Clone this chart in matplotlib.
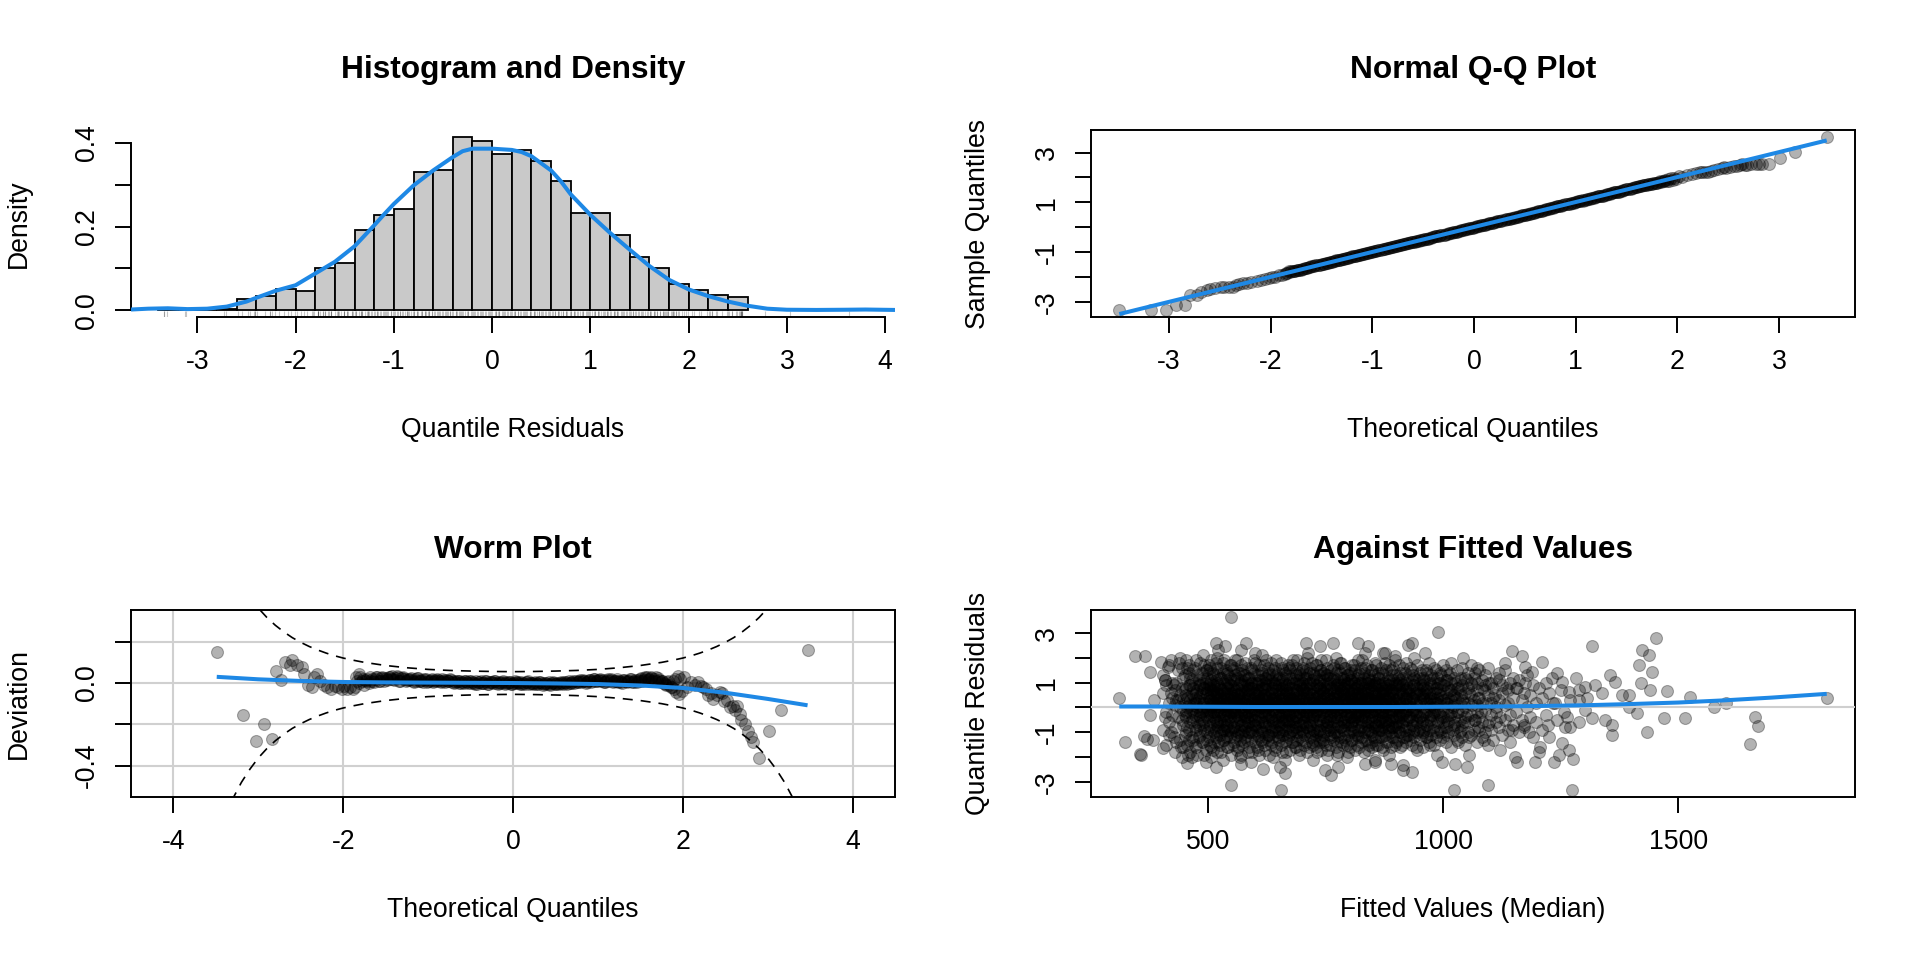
import matplotlib
matplotlib.use("Agg")
import matplotlib.pyplot as plt

plt.rcParams['font.family'] = ['Liberation Sans', 'DejaVu Sans']
plt.rcParams['axes.unicode_minus'] = False

BLUE = '#1E88E5'
PT_FACE = (0, 0, 0, 0.3)
PT_EDGE = (0, 0, 0, 0.3)

# ---- histogram of quantile residuals (bin width 0.2, density scale)
hist_left = [-3.4, -3.2, -3.0, -2.8, -2.6, -2.4, -2.2, -2.0, -1.8, -1.6,
             -1.4, -1.2, -1.0, -0.8, -0.6, -0.4, -0.2, 0.0, 0.2, 0.4,
             0.6, 0.8, 1.0, 1.2, 1.4, 1.6, 1.8, 2.0, 2.2, 2.4]
hist_heights = [0.005, 0.0, 0.0, 0.004, 0.028, 0.034, 0.050, 0.046, 0.101, 0.114,
                0.191, 0.227, 0.241, 0.330, 0.336, 0.414, 0.405, 0.374, 0.382, 0.356,
                0.308, 0.232, 0.232, 0.181, 0.127, 0.102, 0.064, 0.049, 0.036, 0.032]

# kernel density curve
dens_x = [-3.675, -3.5, -3.3, -3.1, -2.9, -2.7, -2.5, -2.4, -2.2, -2.0,
          -1.9, -1.8, -1.6, -1.4, -1.3, -1.2, -1.1, -1.0, -0.8, -0.6,
          -0.4, -0.3, -0.2, 0.0, 0.2, 0.3, 0.4, 0.6, 0.7, 0.8,
          1.0, 1.2, 1.4, 1.6, 1.8, 2.0, 2.2, 2.4, 2.6, 2.8,
          3.0, 3.3, 3.6, 3.8, 4.1]
dens_y = [0.002, 0.004, 0.005, 0.003, 0.004, 0.009, 0.021, 0.030, 0.047, 0.060,
          0.074, 0.088, 0.116, 0.153, 0.178, 0.203, 0.229, 0.254, 0.298, 0.334,
          0.366, 0.380, 0.386, 0.386, 0.383, 0.378, 0.368, 0.334, 0.308, 0.277,
          0.228, 0.185, 0.145, 0.106, 0.073, 0.050, 0.034, 0.021, 0.011, 0.004,
          0.0015, 0.001, 0.0015, 0.002, 0.001]

# ---- worm plot points: theoretical quantile and deviation (sample - theoretical)
tail_theo = [-3.49, -3.18, -3.03, -2.93, -2.84, -2.79, -2.73, -2.69, -2.63, -2.60,
             -2.55, -2.49, -2.46, -2.41, -2.37, -2.34, -2.31, -2.27, -2.23, -2.19,
             -2.14, -2.10, -2.06, -2.02, -1.99, -1.96, -1.92, -1.89,
             1.94, 1.96, 1.97, 1.99, 2.02, 2.05, 2.10, 2.14, 2.18, 2.22,
             2.24, 2.27, 2.30, 2.33, 2.36, 2.40, 2.44, 2.46, 2.48, 2.52,
             2.56, 2.59, 2.62, 2.64, 2.67, 2.69, 2.73, 2.77, 2.80, 2.83,
             2.90, 3.01, 3.16, 3.47]
tail_dev = [0.148, -0.156, -0.28, -0.2, -0.273, 0.057, 0.017, 0.102, 0.087, 0.114,
            0.087, 0.078, 0.045, -0.011, -0.02, 0.03, 0.045, 0.012, -0.011, -0.02,
            -0.027, -0.015, -0.02, -0.03, -0.015, -0.027, -0.02, -0.027,
            0.035, -0.055, 0.02, -0.04, 0.03, -0.02, 0.005, -0.01, 0.005, -0.015,
            -0.02, -0.03, -0.06, -0.05, -0.076, -0.06, -0.044, -0.05, -0.085, -0.08,
            -0.117, -0.11, -0.133, -0.109, -0.15, -0.177, -0.2, -0.231, -0.26, -0.288,
            -0.364, -0.234, -0.133, 0.16]

body_theo = [-1.86, -1.84, -1.82, -1.80, -1.78, -1.76, -1.74, -1.72, -1.70, -1.68,
             -1.66, -1.64, -1.62, -1.60, -1.58, -1.56, -1.54, -1.52, -1.50, -1.48,
             -1.46, -1.44, -1.42, -1.40, -1.38, -1.36, -1.34, -1.32, -1.30, -1.28,
             -1.26, -1.24, -1.22, -1.20, -1.18, -1.16, -1.14, -1.12, -1.10, -1.08,
             -1.06, -1.04, -1.02, -1.00, -0.98, -0.96, -0.94, -0.92, -0.90, -0.88,
             -0.86, -0.84, -0.82, -0.80, -0.78, -0.76, -0.74, -0.72, -0.70, -0.68,
             -0.66, -0.64, -0.62, -0.60, -0.58, -0.56, -0.54, -0.52, -0.50, -0.48,
             -0.46, -0.44, -0.42, -0.40, -0.38, -0.36, -0.34, -0.32, -0.30, -0.28,
             -0.26, -0.24, -0.22, -0.20, -0.18, -0.16, -0.14, -0.12, -0.10, -0.08,
             -0.06, -0.04, -0.02, 0.00, 0.02, 0.04, 0.06, 0.08, 0.10, 0.12,
             0.14, 0.16, 0.18, 0.20, 0.22, 0.24, 0.26, 0.28, 0.30, 0.32,
             0.34, 0.36, 0.38, 0.40, 0.42, 0.44, 0.46, 0.48, 0.50, 0.52,
             0.54, 0.56, 0.58, 0.60, 0.62, 0.64, 0.66, 0.68, 0.70, 0.72,
             0.74, 0.76, 0.78, 0.80, 0.82, 0.84, 0.86, 0.88, 0.90, 0.92,
             0.94, 0.96, 0.98, 1.00, 1.02, 1.04, 1.06, 1.08, 1.10, 1.12,
             1.14, 1.16, 1.18, 1.20, 1.22, 1.24, 1.26, 1.28, 1.30, 1.32,
             1.34, 1.36, 1.38, 1.40, 1.42, 1.44, 1.46, 1.48, 1.50, 1.52,
             1.54, 1.56, 1.58, 1.60, 1.62, 1.64, 1.66, 1.68, 1.70, 1.72,
             1.74, 1.76, 1.78, 1.80, 1.82, 1.84, 1.86, 1.88, 1.90, 1.92]
body_dev = [-0.02, 0.01, 0.045, 0.03, 0.01, -0.01, 0.015, 0.02, 0.0, 0.012,
            0.02, 0.005, 0.018, 0.028, 0.01, 0.022, 0.03, 0.012, 0.025, 0.018,
            0.03, 0.02, 0.035, 0.015, 0.025, 0.028, 0.012, 0.022, 0.03, 0.018,
            0.01, 0.02, 0.015, 0.025, 0.008, 0.018, 0.012, 0.022, 0.01, 0.015,
            0.005, 0.015, 0.02, 0.008, 0.012, 0.018, 0.006, 0.014, 0.01, 0.016,
            0.008, 0.018, 0.012, 0.005, 0.015, 0.01, 0.02, 0.006, 0.012, 0.004,
            0.01, 0.002, 0.012, 0.006, 0.0, 0.01, 0.004, 0.012, -0.002, 0.006,
            0.0, 0.008, -0.004, 0.004, 0.01, -0.002, 0.002, 0.008, -0.005, 0.004,
            0.006, -0.002, 0.008, 0.002, -0.004, 0.006, 0.0, 0.008, -0.003, 0.004,
            0.0, 0.006, -0.004, 0.002, 0.008, -0.002, 0.004, -0.005, 0.003, 0.0,
            -0.004, 0.004, 0.008, -0.002, 0.002, -0.006, 0.004, 0.0, -0.004, 0.003,
            -0.002, -0.007, 0.002, -0.004, 0.003, -0.008, -0.002, 0.002, -0.005, 0.0,
            -0.004, 0.004, -0.002, 0.006, 0.0, -0.003, 0.008, 0.002, 0.006, 0.0,
            0.01, 0.004, 0.012, 0.006, 0.014, 0.008, 0.002, 0.012, 0.016, 0.006,
            0.012, 0.018, 0.008, 0.014, 0.02, 0.01, 0.016, 0.006, 0.012, 0.018,
            0.008, 0.014, 0.004, 0.012, 0.018, 0.006, 0.01, 0.002, 0.014, 0.008,
            0.004, 0.012, 0.018, 0.006, 0.01, 0.016, 0.004, 0.012, 0.02, 0.008,
            0.014, 0.024, 0.03, 0.018, 0.026, 0.012, 0.02, 0.028, 0.01, 0.016,
            0.006, 0.012, 0.0, -0.008, 0.004, -0.012, -0.02, 0.01, -0.03, -0.045]

# further points inside the dense body (between the ones above)
body2_theo = [-1.85, -1.81, -1.77, -1.73, -1.69, -1.65, -1.61, -1.57, -1.53, -1.49,
              -1.45, -1.41, -1.37, -1.33, -1.29, -1.25, -1.21, -1.17, -1.13, -1.09,
              -1.05, -1.01, -0.97, -0.93, -0.89, -0.85, -0.81, -0.77, -0.73, -0.69,
              -0.65, -0.61, -0.57, -0.53, -0.49, -0.45, -0.41, -0.37, -0.33, -0.29,
              -0.25, -0.21, -0.17, -0.13, -0.09, -0.05, -0.01, 0.03, 0.07, 0.11,
              0.15, 0.19, 0.23, 0.27, 0.31, 0.35, 0.39, 0.43, 0.47, 0.51,
              0.55, 0.59, 0.63, 0.67, 0.71, 0.75, 0.79, 0.83, 0.87, 0.91,
              0.95, 0.99, 1.03, 1.07, 1.11, 1.15, 1.19, 1.23, 1.27, 1.31,
              1.35, 1.39, 1.43, 1.47, 1.51, 1.55, 1.59, 1.63, 1.67, 1.71,
              1.75, 1.79, 1.83, 1.87, 1.91]
body2_dev = [0.03, 0.0, 0.02, 0.01, 0.028, 0.012, 0.03, 0.008, 0.024, 0.016,
             0.028, 0.018, 0.032, 0.01, 0.026, 0.014, 0.02, 0.006, 0.022, 0.008,
             0.018, 0.004, 0.016, 0.01, 0.02, 0.004, 0.014, 0.008, 0.016, 0.002,
             0.008, 0.0, 0.01, 0.002, 0.008, -0.004, 0.006, 0.0, 0.008, -0.004,
             0.004, 0.008, -0.002, 0.006, 0.0, 0.004, -0.004, 0.006, 0.002, -0.003,
             0.006, -0.004, 0.002, -0.006, 0.003, -0.008, 0.0, -0.005, 0.004, -0.006,
             0.002, -0.004, 0.006, 0.0, 0.01, 0.004, 0.014, 0.008, 0.004, 0.014,
             0.02, 0.008, 0.016, 0.004, 0.014, 0.02, 0.008, 0.012, 0.004, 0.016,
             0.01, 0.02, 0.006, 0.014, 0.022, 0.03, 0.016, 0.028, 0.012, 0.024,
             0.008, -0.004, 0.012, -0.02, 0.02]

# fitted cubic trend of the worm
worm_trend_x = [-3.49, -3.0, -2.5, -2.0, -1.5, -1.0, -0.5, 0.0, 0.5, 1.0, 1.5, 2.0, 2.5, 3.0, 3.47]
worm_trend_y = [0.030, 0.018, 0.010, 0.005, 0.003, 0.002, 0.001, 0.0, -0.002, -0.005,
                -0.012, -0.024, -0.047, -0.077, -0.108]

# 95% pointwise band of the worm plot (half width)
band_z = [-3.4, -3.3, -3.2, -3.1, -3.0, -2.9, -2.8, -2.7, -2.6, -2.5, -2.4, -2.3, -2.2, -2.1,
          -2.0, -1.9, -1.75, -1.5, -1.25, -1.0, -0.75, -0.5, -0.25, 0.0,
          0.25, 0.5, 0.75, 1.0, 1.25, 1.5, 1.75, 1.9, 2.0,
          2.1, 2.2, 2.3, 2.4, 2.5, 2.6, 2.7, 2.8, 2.9, 3.0, 3.1, 3.2, 3.3, 3.4]
band_half = [0.654, 0.560, 0.482, 0.418, 0.363, 0.318, 0.280, 0.248, 0.220, 0.197, 0.177, 0.160, 0.145, 0.132,
             0.121, 0.112, 0.100, 0.085, 0.074, 0.066, 0.061, 0.058, 0.056, 0.055,
             0.056, 0.058, 0.061, 0.066, 0.074, 0.085, 0.100, 0.112, 0.121,
             0.132, 0.145, 0.160, 0.177, 0.197, 0.220, 0.248, 0.280, 0.318, 0.363, 0.418, 0.482, 0.560, 0.654]

# reference line of the Q-Q plot
qq_line_x = [-3.49, 3.47]
qq_line_y = [-3.49, 3.49]

# ---- residuals against fitted values
scatter_outer = [
    (311, 0.37), (344, 2.08), (366, 2.08), (377, 1.45), (324, -1.38), (354, -1.88), (357, -1.92),
    (363, -1.15), (371, -1.25), (382, -1.32), (384, 0.30), (377, -0.30), (403, -1.65), (400, 1.85),
    (414, 1.65), (439, 1.81), (428, 0.91), (408, 1.11), (428, -1.18), (442, -1.58), (454, -2.23),
    (457, -1.92), (517, 2.59), (548, 3.65), (548, -3.13), (517, -2.39), (581, 2.59), (599, 2.19),
    (521, 2.33), (535, 2.46), (570, 2.33), (656, -3.31), (617, -2.49), (652, -2.39), (663, -2.66),
    (570, -2.26), (709, 2.59), (737, 2.46), (766, 2.59), (713, 2.19), (762, -2.73), (748, -2.53),
    (777, -2.39), (819, 2.59), (840, 2.46), (833, 2.19), (876, 2.19), (897, 2.06), (926, 2.53),
    (933, 2.59), (961, 2.19), (990, 3.04), (915, -2.53), (933, -2.59), (890, -2.26), (833, -2.26),
    (855, -2.19), (997, -2.19), (1023, -3.34), (1050, -2.39), (1025, -2.26), (1054, -1.92),
    (1043, 1.99), (1071, 1.58), (1096, -3.13), (1146, 2.26), (1167, 2.06), (1175, 1.65), (1210, 1.85),
    (1189, 1.45), (1132, 1.79), (1118, 1.11), (1157, 0.78), (1175, 0.98), (1203, 0.78), (1231, 1.18),
    (1253, 1.04), (1267, 0.64), (1288, 0.71), (1302, 0.84), (1317, 2.46), (1324, 0.91), (1338, 0.57),
    (1356, 1.31), (1366, 1.04), (1381, 0.51), (1395, 0.51), (1416, 1.72), (1423, 2.33), (1438, 2.12),
    (1452, 2.80), (1445, 1.45), (1420, 0.98), (1441, 0.71), (1413, -0.24), (1434, -0.98),
    (1359, -0.71), (1359, -1.11), (1317, -0.44), (1277, -2.06), (1274, -3.34), (1267, -1.72),
    (1253, -1.45), (1235, -2.19), (1246, -1.92), (1207, -1.58), (1203, -1.79), (1196, -2.19),
    (1153, -1.99), (1157, -2.19), (1121, -1.72), (1182, -0.98), (1171, -0.71), (1224, -0.71),
    (1260, -0.78), (1263, -0.37), (1302, -0.10), (1288, 0.30), (1239, 0.17), (1345, -0.51),
    (1395, 0.03), (1477, 0.68), (1526, 0.44), (1470, -0.44), (1514, -0.44), (1576, 0.01),
    (1601, 0.20), (1663, -0.40), (1670, -0.74), (1653, -1.49), (1816, 0.37)]

# dense cloud, estimated column by column (fitted value, residuals)
scatter_cols = [
    (405, [0.6, -0.9, 1.3]), (411, [-0.2, 0.9, -1.5]), (417, [0.2, -0.6, 1.7, -1.1]),
    (423, [0.4, -0.3, 1.0]), (429, [-1.8, 0.1, 0.7, -0.8]), (435, [1.5, -0.4, 0.3]),
    (441, [-1.3, 2.0, 0.0, 0.5]), (447, [-0.1, -0.7, 1.2, 0.3, -1.6]),
    (453, [0.8, -0.2, 1.9, -1.0, 0.5, -0.4]), (459, [1.4, -1.3, 0.1, 0.9, -0.9, 1.7]),
    (465, [-0.1, -2.0, 0.6, -0.5, 1.1, -1.2]), (471, [0.2, 1.6, -0.8, 0.4, -0.3, 1.0, -1.5]),
    (477, [0.0, 0.7, -0.6, 1.3, -1.9, 0.3]), (483, [-0.2, 0.9, -1.1, 1.8, -0.4, 0.5, -0.9]),
    (489, [1.2, -0.1, 0.2, -1.4, 0.8, -0.7, 2.1]), (495, [-2.2, 1.5, -1.7, 0.6, 0.0, -0.3, 1.0]),
    (501, [0.4, -0.8, 1.4, -0.1, 0.9, -1.2, 0.2, -0.5, 1.7]),
    (507, [-1.6, 0.6, -0.3, 1.1, 0.0, -0.9, 0.7, -2.0, 1.9, 0.3]),
    (513, [0.8, -0.4, 1.3, -1.0, 0.1, 0.5, -1.4, 0.9, -0.2]),
    (519, [-0.7, 1.6, 0.3, -1.8, 0.6, -0.1, 1.0, -0.6, 0.2, 2.0]),
    (525, [0.5, -1.1, 0.0, 1.2, -0.5, 0.8, -1.5, 0.4, -0.2]),
    (531, [1.4, -0.3, -0.9, 0.7, 0.1, -1.3, 1.8, -0.7, 0.3, -2.1]),
    (537, [-0.4, 0.9, 0.2, -1.2, 1.1, -0.1, 0.6, -0.8, 1.5]),
    (543, [0.0, -1.6, 0.8, 0.4, -0.5, 1.3, -0.9, 0.1, -0.3, 1.0]),
    (549, [-1.0, 0.5, 1.7, -0.6, 0.2, -1.9, 0.9, -0.2, 0.6]),
    (555, [1.1, -0.4, 0.3, -1.4, 0.7, 0.0, -0.8, 1.6, -0.1, 0.4]),
    (561, [-0.6, 1.2, -1.1, 0.2, 0.8, -0.3, 1.9, -1.7, 0.5]),
    (567, [0.3, -0.9, 1.0, -0.2, 0.6, -1.3, 0.1, 1.4, -0.5, -2.0]),
    (573, [0.9, -0.1, -0.7, 1.5, 0.4, -1.0, 0.0, 0.7, -1.5]),
    (579, [-0.3, 1.1, 0.2, -0.8, 1.8, -0.4, 0.6, -1.2, 0.3, 1.3]),
    (585, [-1.8, 0.5, -0.2, 0.9, -0.6, 1.2, 0.1, -1.0, 0.7]),
    (591, [0.2, -1.3, 1.6, -0.4, 0.8, 0.0, -0.9, 1.0, -0.1, -2.2]),
    (597, [1.4, -0.5, 0.3, -1.1, 0.6, -0.2, 1.9, -0.7, 0.4]),
    (603, [-0.9, 0.7, 0.1, 1.3, -1.6, 0.5, -0.3, 1.0, -0.1, 0.2]),
    (609, [0.6, -1.2, 1.7, -0.4, 0.0, -0.8, 1.1, 0.3, -1.9]),
    (615, [-0.2, 0.9, -0.6, 1.4, -1.0, 0.4, 0.1, -1.4, 0.8, 2.1]),
    (621, [1.0, -0.3, 0.5, -1.7, 0.2, 1.2, -0.7, -0.1, 0.7]),
    (627, [-1.1, 0.3, 1.6, -0.5, 0.9, -0.2, 0.0, -1.3, 1.3, 0.4]),
    (633, [0.1, -0.8, 1.1, -1.5, 0.6, 0.2, -0.4, 1.8, -1.0]),
    (639, [0.8, -0.1, -1.2, 0.4, 1.5, -0.6, 0.0, -2.0, 1.0, 0.3]),
    (645, [-0.5, 1.3, 0.2, -0.9, 0.7, -1.6, 0.5, -0.2, 1.9]),
    (651, [0.3, -1.0, 0.9, -0.3, 1.2, -0.7, 0.1, -1.3, 0.6, -0.1]),
    (657, [1.6, -0.4, 0.0, -1.1, 0.8, 0.4, -1.8, 1.1, -0.6]),
    (663, [-0.2, 0.5, -1.4, 1.4, -0.5, 0.2, 1.0, -0.9, 0.7, -2.1]),
    (669, [0.9, -0.6, 0.3, -1.2, 1.7, -0.1, 0.6, -0.8, 0.0]),
    (675, [-1.0, 1.2, 0.1, -0.3, 0.8, -1.7, 0.4, 1.5, -0.5, 0.2]),
    (681, [0.6, -0.9, 1.9, -0.2, 0.3, -1.4, 1.0, -0.6, -0.1]),
    (687, [-0.4, 0.7, -1.1, 1.3, 0.0, -0.8, 0.5, 1.6, -1.6, 0.2]),
    (693, [1.1, -0.2, 0.4, -1.0, 0.9, -0.5, 0.1, -1.9, 1.4]),
    (699, [0.0, 1.5, -0.7, 0.3, -1.3, 0.8, -0.3, 1.0, -0.9, 0.6]),
    (705, [-1.5, 0.4, 1.2, -0.1, 0.7, -0.6, 1.8, -1.1, 0.2]),
    (711, [0.5, -0.4, 0.9, -1.8, 0.1, 1.3, -0.8, 0.6, -0.2, 2.0]),
    (717, [-0.7, 1.0, 0.2, -1.2, 1.6, -0.3, 0.4, -1.0, 0.8]),
    (723, [0.3, -1.5, 1.1, -0.1, 0.6, -0.9, 1.4, -0.4, 0.0, -2.1]),
    (729, [1.2, -0.6, 0.1, -1.1, 0.9, 0.4, -1.6, 1.7, -0.2]),
    (735, [-0.3, 0.8, -0.9, 1.3, -0.5, 0.2, 1.0, -1.3, 0.5, 0.0]),
    (741, [0.7, -1.2, 1.5, -0.1, 0.3, -0.7, 1.9, -1.7, 0.1]),
    (747, [-1.0, 0.4, 0.0, 1.1, -0.4, 0.8, -1.4, 0.6, -0.2, 1.4]),
    (753, [0.2, -0.8, 1.3, -1.9, 0.5, -0.1, 0.9, -0.6, 1.6]),
    (759, [-0.5, 1.0, 0.3, -1.1, 0.7, -0.3, 1.2, -1.5, 0.1, -0.9]),
    (765, [1.7, -0.2, 0.6, -0.8, 0.0, 1.1, -1.3, 0.4, -0.6]),
    (771, [-0.1, 0.9, -1.6, 0.5, 1.4, -0.4, 0.2, -1.0, 0.8, 2.0]),
    (777, [0.4, -1.1, 1.0, -0.3, 0.6, -1.8, 1.5, -0.7, 0.1]),
    (783, [-0.8, 0.3, 1.2, -0.2, 0.7, -1.4, 0.0, 0.9, -0.5, 1.8]),
    (789, [1.1, -0.6, 0.2, -1.2, 0.8, -0.1, 1.6, -0.9, 0.5]),
    (795, [-0.3, 0.6, -1.5, 1.0, 0.1, -0.7, 1.3, -2.0, 0.4, -0.1]),
    (801, [0.9, -0.4, 0.0, 1.4, -1.0, 0.5, -0.2, 1.1, -1.6]),
    (807, [-0.6, 1.2, 0.3, -1.3, 0.7, -0.5, 1.7, 0.1, -0.9, 0.6]),
    (813, [0.2, -1.1, 1.0, -0.2, 0.8, -1.7, 0.4, 1.5, -0.4]),
    (819, [-0.9, 0.5, 1.3, -0.6, 0.0, 0.9, -1.2, 0.3, -0.3, 1.9]),
    (825, [1.0, -0.1, -1.4, 0.6, 0.2, -0.8, 1.6, -0.5, 0.4]),
    (831, [-0.2, 0.8, -1.0, 1.2, 0.1, -1.8, 0.7, -0.4, 1.4, 0.0]),
    (837, [0.6, -0.7, 0.3, -1.3, 1.0, -0.1, 0.5, 1.7, -1.0]),
    (843, [-1.5, 0.2, 1.1, -0.4, 0.8, -0.9, 0.0, 1.3, -0.2, 0.4]),
    (849, [0.9, -0.5, 1.5, -1.1, 0.3, -0.3, 0.7, -1.6, 0.1]),
    (855, [-0.1, 1.0, -0.8, 0.5, -1.3, 1.8, 0.2, -0.6, 0.9, -2.1]),
    (861, [0.4, -1.0, 1.2, -0.3, 0.7, -1.5, 0.0, 1.4, -0.7]),
    (867, [-0.6, 0.6, 0.1, -1.2, 1.6, -0.2, 0.9, -0.9, 0.3]),
    (873, [1.3, -0.4, 0.5, -1.7, 0.2, -0.1, 1.0, -0.8, 0.6, 2.2]),
    (879, [-0.3, 0.8, -1.1, 0.0, 1.5, -0.6, 0.3, -1.4, 0.7]),
    (885, [0.5, -0.9, 1.1, -0.2, 0.4, -1.9, 0.9, -0.5, 1.7]),
    (891, [-1.2, 0.2, 0.7, -0.4, 1.3, -0.8, 0.1, 0.6, -0.1]),
    (897, [0.8, -0.7, 1.9, -1.0, 0.3, -0.3, 1.0, -1.5, 0.0]),
    (903, [-0.5, 1.2, 0.4, -1.3, 0.6, -0.1, 0.9, -0.8]),
    (909, [0.1, -1.6, 1.4, -0.4, 0.7, 0.2, -1.0, 1.1, -0.2]),
    (915, [0.9, -0.3, -1.2, 0.5, 1.6, -0.6, 0.0, -2.3]),
    (921, [-0.8, 0.4, 1.0, -0.1, 0.7, -1.4, 0.3, 1.8, -0.5]),
    (927, [0.6, -1.1, 0.2, 1.3, -0.4, 0.8, -0.9]),
    (933, [-0.2, 1.1, -0.7, 0.4, -1.5, 1.5, 0.0, -0.5]),
    (939, [1.2, -0.9, 0.3, -0.1, 0.9, -1.2, 0.6, 2.0]),
    (945, [-0.6, 0.5, 1.7, -1.0, 0.1, -0.3, 0.8, -1.7]),
    (951, [0.3, -0.4, 1.0, -1.3, 0.6, 1.4, -0.8]),
    (957, [-1.0, 0.8, 0.0, 1.2, -0.5, 0.4, -1.6, 0.9]),
    (963, [0.5, -1.2, 1.5, -0.2, 0.7, -0.7, 0.2]),
    (969, [-0.4, 1.1, -0.9, 0.3, 1.8, -1.4, 0.6, -0.1]),
    (975, [0.9, -0.6, 0.1, -1.1, 1.3, 0.4, -0.3]),
    (981, [-0.8, 0.6, 1.6, -0.2, 0.0, -1.5, 1.0, 0.3]),
    (987, [0.4, -1.0, 1.2, -0.5, 0.8, -1.9, 0.2]),
    (993, [1.4, -0.3, 0.5, -0.9, 0.1, 1.0, -1.3, 0.7]),
    (999, [-0.1, 0.9, -1.2, 1.7, -0.6, 0.3, -0.4]),
    (1005, [0.6, -0.8, 1.1, -1.4, 0.2, 1.5]), (1011, [-0.3, 1.3, 0.4, -1.0, 0.8, -0.6, 0.0]),
    (1017, [1.0, -1.6, 0.3, 0.7, -0.2, 1.8]), (1023, [-0.7, 0.5, 1.2, -1.1, 0.1, -0.4]),
    (1029, [0.8, -0.2, -1.3, 1.5, 0.4, -0.8]), (1035, [-1.0, 1.1, 0.2, -0.5, 0.7]),
    (1041, [0.3, -1.2, 1.6, -0.1, 0.9, -0.7]), (1047, [1.2, -0.4, 0.0, -1.5, 0.6]),
    (1053, [-0.6, 0.8, 1.4, -1.0, 0.2]), (1059, [0.5, -1.1, 1.0, -0.3, 1.7]),
    (1065, [-0.9, 0.3, 1.2, -0.5]), (1071, [0.7, -1.4, 0.1, 1.0, -0.2]),
    (1077, [-0.4, 1.5, -0.9, 0.4]), (1083, [1.1, -0.6, 0.2, -1.2, 0.8]),
    (1089, [-0.1, 0.9, -1.0, 1.3]), (1095, [0.5, -0.7, 1.6, -1.5]),
    (1101, [-0.3, 1.0, 0.2, -0.9]), (1107, [0.8, -1.3, 0.4]), (1113, [-0.6, 1.2, 0.0, -0.2]),
    (1119, [1.4, -0.8, 0.3]), (1125, [-1.1, 0.6, 0.9]), (1131, [0.1, -0.5, 1.5]),
    (1137, [-0.9, 0.7, 0.2]), (1143, [1.0, -0.3, -1.4]), (1149, [0.4, -0.7, 1.2]),
    (1155, [-0.2, 0.8]), (1161, [1.1, -1.0]), (1167, [0.3, -0.5]), (1173, [-0.8, 0.6]),
    (1179, [0.0, 1.3]), (1185, [-0.4, 0.5]), (1191, [0.9, -1.2]), (1197, [-0.6, 0.2]),
    (1210, [0.4, -0.9]), (1218, [1.0, -0.3]), (1226, [-1.2, 0.6]), (1234, [0.2]),
    (1242, [-0.5, 1.4]), (1250, [0.7]), (1258, [-0.2]), (1270, [0.3, -0.8]),
    (1282, [1.2]), (1290, [-0.6]), (1305, [0.4])]

# second pass over the dense cloud, columns in between
scatter_cols2 = [
    (408, [1.1, -0.4]), (420, [-1.0, 0.6, 1.9]), (432, [0.3, -1.4, 1.0]), (444, [-0.5, 0.8, -2.0, 1.6]),
    (450, [0.2, -1.1, 1.3, -0.3, 0.7]), (456, [-0.8, 0.4, 1.6, -1.5, 0.0]),
    (462, [0.9, -0.6, 0.3, -1.8, 1.2, -0.2]), (468, [-1.3, 0.5, 1.5, -0.4, 0.1, 0.8]),
    (474, [0.6, -0.9, 0.2, 1.9, -1.6, -0.1]), (480, [-0.3, 1.1, -1.2, 0.4, 0.9, -0.7]),
    (486, [1.4, -0.5, 0.0, -1.4, 0.6, 1.0, -0.2]), (492, [-0.9, 0.3, 1.7, -0.6, 0.2, -1.9, 0.8]),
    (498, [0.5, -1.0, 1.2, -0.1, 0.7, -0.4, 1.5, -1.3]),
    (504, [-0.2, 1.0, -1.5, 0.3, 0.8, -0.7, 1.6, 0.1]),
    (510, [0.7, -0.6, 1.4, -1.1, 0.2, -0.2, 0.9, -1.7]),
    (516, [-1.2, 0.4, 0.0, 1.1, -0.5, 1.8, -0.9, 0.6]),
    (522, [0.9, -0.1, -1.4, 0.5, 1.3, -0.8, 0.2, -0.3]),
    (528, [-0.6, 1.2, 0.3, -1.0, 0.7, -1.8, 1.6, 0.0]),
    (534, [0.4, -0.9, 1.0, -0.3, 1.9, -1.3, 0.6, -0.5]),
    (540, [-0.1, 0.8, -1.1, 1.4, 0.1, -0.7, 0.5, -1.6]),
    (546, [1.2, -0.4, 0.3, -1.2, 0.9, -0.2, 1.7, -0.9]),
    (552, [-0.8, 0.6, -0.1, 1.1, -1.5, 0.4, 0.0, 1.5]),
    (558, [0.2, -1.2, 1.3, -0.5, 0.7, -0.9, 1.9, -0.2]),
    (564, [-1.0, 0.9, 0.1, -0.4, 1.4, -1.6, 0.5, 0.3]),
    (570, [0.6, -0.3, 1.1, -1.1, 0.0, 1.7, -0.7, -1.9]),
    (576, [-0.5, 1.3, -0.9, 0.4, 0.9, -0.2, -1.4, 0.2]),
    (582, [1.0, -0.7, 0.3, -1.3, 1.6, 0.1, -0.4, 0.7]),
    (588, [-0.2, 0.5, -1.6, 1.2, -0.6, 0.8, 0.0, -1.0]),
    (594, [0.8, -1.0, 1.5, -0.3, 0.3, -0.8, 1.0, -1.8]),
    (600, [-0.7, 0.2, 1.0, -1.4, 0.6, -0.1, 1.8, -0.5]),
    (606, [0.4, -0.6, -1.1, 1.3, 0.1, 0.9, -1.7, 0.5]),
    (612, [-1.3, 1.1, 0.2, -0.4, 0.7, -0.9, 1.5, 0.0]),
    (618, [0.5, -0.2, 1.7, -1.0, 0.3, -1.5, 0.8, -0.6]),
    (624, [-0.4, 0.9, -0.8, 1.2, 0.0, -1.2, 0.4, 1.9]),
    (630, [1.1, -1.1, 0.5, -0.3, 1.4, -0.7, 0.1, -1.9]),
    (636, [-0.9, 0.3, 1.3, -0.5, 0.8, -1.4, 0.6, -0.1]),
    (642, [0.2, -0.8, 1.0, -1.7, 0.4, 1.6, -0.3, 0.9]),
    (648, [-0.6, 1.4, -1.0, 0.1, 0.7, -0.4, 1.1, -1.2]),
    (654, [0.9, -0.3, 0.2, -1.5, 1.8, -0.8, 0.5, 0.0]),
    (660, [-1.1, 0.6, 1.2, -0.2, 0.3, -0.9, 1.5, -0.6]),
    (666, [0.4, -1.3, 0.9, -0.1, 1.3, -0.5, -1.8, 0.7]),
    (672, [-0.3, 1.0, -0.7, 1.6, 0.2, -1.1, 0.5, -0.2]),
    (678, [1.2, -0.5, 0.0, -1.4, 0.8, 0.3, -0.9, 1.7]),
    (684, [-0.8, 0.4, 1.4, -0.6, 0.1, -1.6, 1.0, -0.3]),
    (690, [0.6, -1.0, 0.3, 1.1, -0.4, 0.7, -1.3, 1.9]),
    (696, [-0.2, 1.3, -1.2, 0.5, 0.9, -0.7, 0.0, -1.7]),
    (702, [1.0, -0.6, 1.6, -0.1, 0.4, -1.0, 0.7, -0.4]),
    (708, [-1.4, 0.2, 0.8, -0.8, 1.2, 0.0, -0.3, 1.5]),
    (714, [0.3, -0.9, 1.4, -1.6, 0.6, -0.2, 1.0, -0.6]),
    (720, [-0.5, 1.1, 0.1, -1.1, 1.8, -0.4, 0.5, -1.4]),
    (726, [0.8, -0.3, -0.9, 0.4, 1.3, -1.3, 0.2, 0.0]),
    (732, [-1.0, 0.6, 1.7, -0.7, 0.1, -0.1, 0.9, -1.8]),
    (738, [0.5, -1.4, 0.3, 1.1, -0.5, 0.8, -0.9, 1.5]),
    (744, [-0.2, 0.9, -1.1, 0.0, 1.4, -0.6, 0.6, -1.3]),
    (750, [1.3, -0.7, 0.4, -1.5, 0.7, -0.1, 1.9, -0.4]),
    (756, [-0.6, 0.2, 1.0, -0.9, 0.5, -1.7, 1.2, 0.1]),
    (762, [0.1, -1.2, 1.5, -0.3, 0.8, -0.8, 0.3, -0.1]),
    (768, [-1.1, 0.7, -0.4, 1.2, 0.0, -1.0, 1.6, 0.4]),
    (774, [0.9, -0.5, 0.2, -1.4, 1.1, -0.2, 0.6, -1.9]),
    (780, [-0.3, 1.4, -0.8, 0.5, -1.2, 0.9, 0.0, 1.8]),
    (786, [0.6, -0.9, 1.2, -0.1, 0.3, -1.5, 0.8, -0.6]),
    (792, [-1.3, 0.3, 0.9, -0.4, 1.6, -0.7, 0.1, 0.5]),
    (798, [0.2, -0.6, 1.3, -1.1, 0.7, 0.0, -1.8, 1.0]),
    (804, [-0.7, 1.1, -0.2, 0.6, -1.3, 1.5, 0.4, -0.4]),
    (810, [1.0, -1.0, 0.5, -0.5, 0.2, 1.7, -0.8, 0.0]),
    (816, [-0.4, 0.8, -1.5, 1.2, 0.1, -0.2, 0.6, -1.1]),
    (822, [0.7, -0.3, 1.4, -0.9, 0.4, -1.6, 1.0, 0.2]),
    (828, [-1.2, 0.5, 0.0, 1.1, -0.6, 0.9, -0.3, 1.9]),
    (834, [0.3, -0.8, 1.6, -1.3, 0.6, -0.1, 0.2, -0.5]),
    (840, [-0.6, 1.2, -0.9, 0.4, 1.0, -1.7, 0.7, 0.0]),
    (846, [1.1, -0.2, 0.3, -1.0, 0.8, -0.6, 1.5, -1.4]),
    (852, [-0.1, 0.6, -1.2, 1.3, -0.4, 0.2, 0.9, -0.8]),
    (858, [0.5, -1.5, 1.0, -0.2, 1.7, -0.7, 0.1, 0.4]),
    (864, [-0.9, 0.3, 1.2, -0.5, 0.6, -1.2, -0.1, 0.9]),
    (870, [0.8, -0.4, -1.6, 0.2, 1.4, -0.9, 0.5, -0.2]),
    (876, [-0.5, 1.0, 0.0, -1.1, 0.7, 1.8, -0.6, 0.3]),
    (882, [1.2, -0.8, 0.4, -0.3, -1.4, 0.9, 0.1, -0.7]),
    (888, [-0.2, 0.7, -1.0, 1.5, 0.2, -0.5, 1.0, -1.6]),
    (894, [0.4, -1.2, 1.1, -0.1, 0.6, -0.8, 1.6]),
    (900, [-0.8, 0.2, 0.9, -0.4, 1.3, -1.4, 0.5]),
    (906, [1.0, -0.6, 0.3, -1.0, 0.0, 1.7, -0.3]),
    (912, [-0.3, 1.2, -1.5, 0.6, 0.2, -0.7, 0.9]),
    (918, [0.7, -0.9, 1.4, -0.2, 0.4, -1.2]),
    (924, [-1.1, 0.5, 0.1, 1.1, -0.5, 0.8, -0.1]),
    (930, [0.3, -0.4, 1.6, -1.3, 0.7, 0.0]),
    (936, [-0.7, 0.9, -0.1, 0.4, -1.0, 1.3]),
    (942, [1.1, -0.5, 0.2, -1.6, 0.6, -0.2]),
    (948, [-0.4, 0.7, 1.2, -0.9, 0.1]),
    (954, [0.5, -1.1, 0.9, -0.3, 1.5, -0.6]),
    (960, [-0.9, 0.3, 1.1, -0.2, 0.6]),
    (966, [0.2, -0.7, 1.4, -1.2, 0.8]),
    (972, [-0.5, 1.0, 0.0, -1.5, 0.4]),
    (978, [1.2, -0.3, 0.6, -0.9]),
    (984, [-0.1, 0.8, -1.2, 1.5, 0.2]),
    (990, [0.6, -0.6, 1.0, -0.2]),
    (996, [-1.0, 0.4, 1.3, -0.4]),
    (1002, [0.3, -0.8, 0.9]), (1008, [-0.5, 1.1, -1.1, 0.2]), (1014, [0.7, -0.3, 1.4]),
    (1020, [-0.9, 0.5, 0.0]), (1026, [1.0, -0.6, 0.3]), (1032, [-0.2, 0.8, -1.4]),
    (1038, [0.5, -0.9, 1.2]), (1044, [-0.6, 0.2]), (1050, [1.1, -0.3]), (1056, [-1.2, 0.6]),
    (1062, [0.1, 0.9]), (1068, [-0.5, 1.4]), (1074, [0.4, -0.8]), (1080, [-0.2]),
    (1086, [0.7, -1.3]), (1092, [0.2]), (1098, [-0.6, 1.0]), (1110, [0.5]),
    (1122, [-0.4]), (1134, [0.8]), (1146, [-0.9])]

# smooth trend of residuals vs fitted
fit_trend_x = [311, 400, 500, 600, 700, 800, 900, 1000, 1100, 1200, 1300, 1400, 1500, 1600, 1700, 1816]
fit_trend_y = [0.04, 0.04, 0.03, 0.02, 0.02, 0.02, 0.02, 0.03, 0.04, 0.06, 0.09, 0.14, 0.20, 0.29, 0.40, 0.55]

# ------------------------------------------------------------------
W, H = 1920, 960
fig = plt.figure(figsize=(W / 100, H / 100), dpi=100)

AX_W = 764 / W
AX_H = 187.3 / H
COL_X = [131 / W, 1091 / W]
ROW_Y = [1 - 317.3 / H, 1 - 797.3 / H]
FS_TITLE = 22.8
FS_TEXT = 19.2


def r_range(vals, frac=0.04):
    lo, hi = min(vals), max(vals)
    pad = (hi - lo) * frac
    return lo - pad, hi + pad


def dress(ax, title, xlabel, ylabel):
    for s in ax.spines.values():
        s.set_linewidth(1.4)
    ax.tick_params(length=11.5, width=1.4, pad=11, labelsize=FS_TEXT, direction='out')
    ax.tick_params(axis='y', labelrotation=90)
    for lab in ax.get_yticklabels():
        lab.set_va('center')
    ax.set_title(title, fontsize=FS_TITLE, fontweight='bold', y=1 + 52 / 187.3, va='center')
    ax.set_xlabel(xlabel, fontsize=FS_TEXT)
    ax.xaxis.label.set_va('center')
    ax.xaxis.set_label_coords(0.5, -113 / 187.3)
    ax.set_ylabel(ylabel, fontsize=FS_TEXT)
    ax.yaxis.label.set_va('center')
    ax.yaxis.set_label_coords(-112.6 / 764, 0.5)


# worm / QQ data share the same points
worm_theo = tail_theo[:28] + body_theo + body2_theo + tail_theo[28:]
worm_dev = tail_dev[:28] + body_dev + body2_dev + tail_dev[28:]
qq_sample = [t + d for t, d in zip(worm_theo, worm_dev)]

# --- Histogram and Density
ax1 = fig.add_axes([COL_X[0], ROW_Y[0], AX_W, AX_H])
ax1.bar(hist_left, hist_heights, width=0.2, align='edge', color='#c9c9c9',
        edgecolor='black', linewidth=1.3, zorder=2)
ax1.plot(dens_x, dens_y, color=BLUE, lw=2.9, solid_capstyle='butt', zorder=3)
ax1.vlines(qq_sample, 0, 0.035, transform=ax1.get_xaxis_transform(),
           colors=[(0, 0, 0, 0.22)], lw=0.8, zorder=1)
ax1.set_xlim(dens_x[0], dens_x[-1])
ax1.set_ylim(r_range([0] + hist_heights))
ax1.set_xticks([-3, -2, -1, 0, 1, 2, 3, 4])
ax1.set_xticklabels(['-3', '-2', '-1', '0', '1', '2', '3', '4'])
ax1.set_yticks([0.0, 0.1, 0.2, 0.3, 0.4])
ax1.set_yticklabels(['0.0', '', '0.2', '', '0.4'])
ax1.spines['top'].set_visible(False)
ax1.spines['right'].set_visible(False)
ax1.spines['left'].set_bounds(0, 0.4)
ax1.spines['bottom'].set_bounds(-3, 4)
dress(ax1, 'Histogram and Density', 'Quantile Residuals', 'Density')

# --- Normal Q-Q Plot
ax2 = fig.add_axes([COL_X[1], ROW_Y[0], AX_W, AX_H])
ax2.scatter(worm_theo, qq_sample, s=74, facecolors=PT_FACE, edgecolors=PT_EDGE,
            linewidths=0.8, zorder=2)
ax2.plot(qq_line_x, qq_line_y, color=BLUE, lw=2.9, solid_capstyle='butt', zorder=3)
ax2.set_xlim(r_range(worm_theo))
ax2.set_ylim(r_range(qq_sample))
ax2.set_xticks([-3, -2, -1, 0, 1, 2, 3])
ax2.set_xticklabels(['-3', '-2', '-1', '0', '1', '2', '3'])
ax2.set_yticks([-3, -2, -1, 0, 1, 2, 3])
ax2.set_yticklabels(['-3', '', '-1', '', '1', '', '3'])
dress(ax2, 'Normal Q-Q Plot', 'Theoretical Quantiles', 'Sample Quantiles')

# --- Worm Plot
ax3 = fig.add_axes([COL_X[0], ROW_Y[1], AX_W, AX_H])
for gx in [-4, -2, 0, 2, 4]:
    ax3.axvline(gx, color='#d0d0d0', lw=1.5, zorder=0)
for gy in [0.2, 0.0, -0.2, -0.4]:
    ax3.axhline(gy, color='#d0d0d0', lw=1.5, zorder=0)
ax3.scatter(worm_theo, worm_dev, s=74, facecolors=PT_FACE, edgecolors=PT_EDGE,
            linewidths=0.8, zorder=2)
ax3.plot(band_z, band_half, color='black', lw=1.2, ls=(0, (6, 4.8)), zorder=3)
ax3.plot(band_z, [-h for h in band_half], color='black', lw=1.2, ls=(0, (6, 4.8)), zorder=3)
ax3.plot(worm_trend_x, worm_trend_y, color=BLUE, lw=2.9, solid_capstyle='butt', zorder=4)
ax3.set_xlim(-4.5, 4.5)
ax3.set_ylim(-0.554, 0.354)
ax3.set_xticks([-4, -2, 0, 2, 4])
ax3.set_xticklabels(['-4', '-2', '0', '2', '4'])
ax3.set_yticks([0.2, 0.0, -0.2, -0.4])
ax3.set_yticklabels(['', '0.0', '', '-0.4'])
dress(ax3, 'Worm Plot', 'Theoretical Quantiles', 'Deviation')

# --- Against Fitted Values
fit_vals = [p[0] for p in scatter_outer]
res_vals = [p[1] for p in scatter_outer]
for f, rs in scatter_cols + scatter_cols2:
    for r in rs:
        fit_vals.append(f)
        res_vals.append(r)

ax4 = fig.add_axes([COL_X[1], ROW_Y[1], AX_W, AX_H])
ax4.scatter(fit_vals, res_vals, s=74, facecolors=PT_FACE, edgecolors=PT_EDGE,
            linewidths=0.8, zorder=2)
ax4.axhline(0, color='#cfcfcf', lw=1.5, zorder=3)
ax4.plot(fit_trend_x, fit_trend_y, color=BLUE, lw=2.9, solid_capstyle='butt', zorder=4)
ax4.set_xlim(r_range(fit_vals))
ax4.set_ylim(r_range(res_vals))
ax4.set_xticks([500, 1000, 1500])
ax4.set_xticklabels(['500', '1000', '1500'])
ax4.set_yticks([-3, -2, -1, 0, 1, 2, 3])
ax4.set_yticklabels(['-3', '', '-1', '', '1', '', '3'])
dress(ax4, 'Against Fitted Values', 'Fitted Values (Median)', 'Quantile Residuals')

fig.savefig('out.png', dpi=100)
